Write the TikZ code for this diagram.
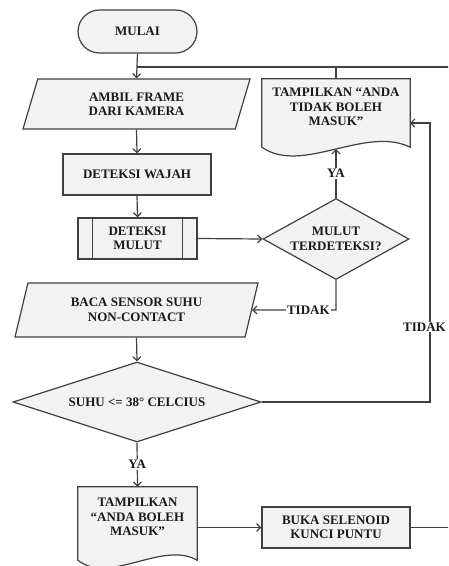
\documentclass[tikz,border=0pt]{standalone}
\usepackage{fontspec}
\setmainfont{Liberation Serif}
\usetikzlibrary{shapes.geometric,shapes.misc,arrows.meta,calc}
\definecolor{fillg}{HTML}{F2F2F2}
\definecolor{lineg}{HTML}{404040}
\definecolor{txtc}{HTML}{1A1A1A}
\begin{document}
\begin{tikzpicture}[x=1pt,y=-1pt,
  every node/.style={font=\fontsize{13}{14.5}\selectfont\bfseries, text=txtc, align=center, inner sep=0pt},
  shp/.style={draw=lineg, fill=fillg, line width=1.2pt},
  ln/.style={draw=lineg, line width=1.2pt},
  arr/.style={ln, -{Straight Barb[length=4pt,width=8pt]}},
  lbl/.style={fill=white, inner sep=1pt}]
\useasboundingbox (0,0) rectangle (448,566);
\clip (0,0) rectangle (448,566);

% nodes
\node[shp, rounded rectangle, minimum width=119pt, minimum height=43pt] (mulai) at (137.5,31.5) {MULAI};
\node[shp, trapezium, trapezium left angle=57.4, trapezium right angle=122.6, trapezium stretches body, minimum width=227pt, minimum height=50pt] (ambil) at (136.5,104) {AMBIL FRAME\\DARI KAMERA};
\node[shp, minimum width=148pt, minimum height=41pt] (wajah) at (137,174.5) {DETEKSI WAJAH};
\node[shp, minimum width=119pt, minimum height=41pt] (mulut) at (137.5,238.5) {DETEKSI\\MULUT};
\draw[ln] ($(mulut.north west)+(15,0)$) -- ($(mulut.south west)+(15,0)$);
\draw[ln] ($(mulut.north east)+(-15,0)$) -- ($(mulut.south east)+(-15,0)$);
\node[shp, diamond, aspect=1.8, minimum width=146pt, minimum height=81pt] (d1) at (336,239) {MULUT\\TERDETEKSI?};

\node[minimum width=148pt, minimum height=68pt] (doc1) at (336,113) {};
\draw[shp] (doc1.north west) -- (doc1.south west) .. controls ($(doc1.south west)+(40,28)$) and ($(doc1.south east)+(-45,-22)$) .. (doc1.south east) -- (doc1.north east) -- cycle;
\node (doc1t) at (336,107) {TAMPILKAN “ANDA\\TIDAK BOLEH\\MASUK”};

\node[shp, trapezium, trapezium left angle=60.9, trapezium right angle=119.1, trapezium stretches body, minimum width=243pt, minimum height=54pt] (baca) at (136.5,310) {BACA SENSOR SUHU\\NON-CONTACT};
\node[shp, diamond, aspect=3.1, minimum width=248pt, minimum height=80pt] (d2) at (137,402) {SUHU <= 38° CELCIUS};

\node[minimum width=119pt, minimum height=73pt] (doc2) at (137.5,523.5) {};
\draw[shp] (doc2.north west) -- (doc2.south west) .. controls ($(doc2.south west)+(32,25)$) and ($(doc2.south east)+(-35,-20)$) .. (doc2.south east) -- (doc2.north east) -- cycle;
\node (doc2t) at (137.5,517) {TAMPILKAN\\“ANDA BOLEH\\MASUK”};

\node[shp, minimum width=148pt, minimum height=41pt] (sel) at (336,527.5) {BUKA SELENOID\\KUNCI PUNTU};

% helper coordinates
\coordinate (jt) at (137,67);
\coordinate (rt) at (460,67);
\coordinate (rb) at (460,527.5);
\coordinate (doc1b) at (336,149);
\coordinate (doc1r) at (410,123);
\coordinate (c1) at (430,402);
\coordinate (c2) at (430,123);
\coordinate (c3) at (336,310);

% connectors
\draw[arr] (mulai.south) -- (ambil.north);
\draw[ln] (jt) -- (rt);
\draw[ln] (doc1.north) -- (doc1.north |- jt);
\draw[arr] (ambil.south) -- (wajah.north);
\draw[arr] (wajah.south) -- (mulut.north);
\draw[arr] (mulut.east) -- (d1.west);
\draw[arr] (d1.north) -- node[lbl] {YA} (doc1b);
\draw[arr] (d1.south) -- (c3) -- node[lbl, pos=0.33] {TIDAK} (baca.east);
\draw[arr] (baca.south) -- (d2.north);
\draw[arr] (d2.east) -- (c1) -- (c2) -- (doc1r);
\node[lbl, anchor=east] (tidak2) at (447,327) {TIDAK};
\draw[arr] (d2.south) -- node[lbl] {YA} (doc2.north);
\draw[arr] (sel.west -| doc2.east) -- (sel.west);
\draw[ln] (sel.east) -- (rb);
\end{tikzpicture}
\end{document}
